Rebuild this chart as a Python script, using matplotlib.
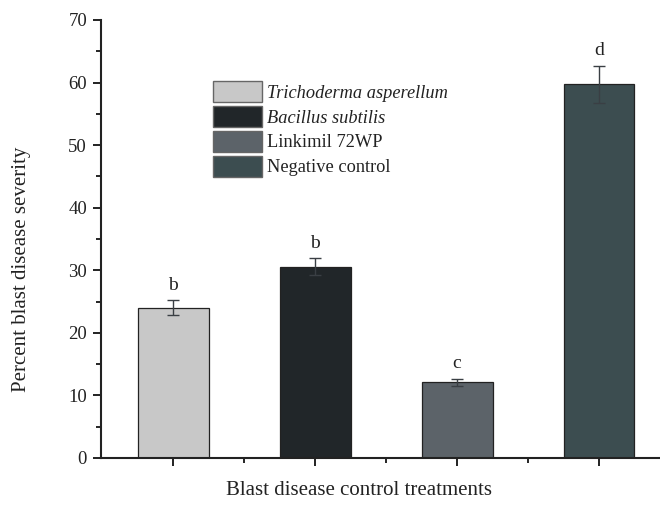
import matplotlib

matplotlib.use("Agg")
import matplotlib.pyplot as plt
from matplotlib.patches import Patch
from matplotlib.ticker import MultipleLocator

# data
treatments = ["Trichoderma asperellum", "Bacillus subtilis", "Linkimil 72WP", "Negative control"]
severity = [24.0, 30.6, 12.1, 59.7]
errors = [1.2, 1.4, 0.6, 3.0]
letters = ["b", "b", "c", "d"]
colors = ["#c8c8c8", "#212629", "#5c6369", "#3c4d50"]
italic = [True, True, False, False]

plt.rcParams["font.family"] = ["Liberation Serif", "DejaVu Serif"]

fig = plt.figure(figsize=(6.6, 5.08), dpi=100)
ax = fig.add_axes([101 / 660, 50 / 508, 1 - 101 / 660, (458 - 20) / 508])

pos = [1, 2, 3, 4]
ax.bar(pos, severity, width=0.5, color=colors, edgecolor="#222222", linewidth=0.9, zorder=2)
ax.errorbar(pos, severity, yerr=errors, fmt="none", ecolor="#3a3f44",
            elinewidth=1.0, capsize=4, capthick=1.0, zorder=3)
for x, v, e, t in zip(pos, severity, errors, letters):
    ax.text(x, v + e + 1.0, t, ha="center", va="bottom", fontsize=14, color="#222222")

ax.set_xlim(0.49, 4.43)
ax.set_ylim(0, 70)
ax.yaxis.set_major_locator(MultipleLocator(10))
ax.yaxis.set_minor_locator(MultipleLocator(5))
ax.set_xticks(pos)
ax.set_xticks([1.5, 2.5, 3.5], minor=True)
ax.set_xticklabels([])
ax.tick_params(which="major", direction="out", length=6, width=1.4, labelsize=13.5,
               colors="#222222", pad=4)
ax.tick_params(which="minor", direction="out", length=3.5, width=1.2)

for side in ["top", "right"]:
    ax.spines[side].set_visible(False)
for side in ["left", "bottom"]:
    ax.spines[side].set_linewidth(1.5)
    ax.spines[side].set_color("#222222")

ax.set_ylabel("Percent blast disease severity", fontsize=15, color="#222222")
ax.yaxis.set_label_coords(-0.125, (458 - 269) / 438)
ax.set_xlabel("Blast disease control treatments", fontsize=15, color="#222222")
ax.xaxis.set_label_coords((359 - 101) / 559, -0.053)

handles = [Patch(facecolor=c, edgecolor="#666666", linewidth=1.0) for c in colors]
leg = fig.legend(handles, treatments, loc="upper left",
                 bbox_to_anchor=(213 / 660, 1 - 81 / 508), frameon=False,
                 borderpad=0, borderaxespad=0, handlelength=2.67, handleheight=1.4,
                 labelspacing=0.2, handletextpad=0.25, fontsize=13.2)
for txt, it in zip(leg.get_texts(), italic):
    txt.set_color("#222222")
    if it:
        txt.set_fontstyle("italic")

fig.savefig("out.png", dpi=100)
plt.close(fig)
